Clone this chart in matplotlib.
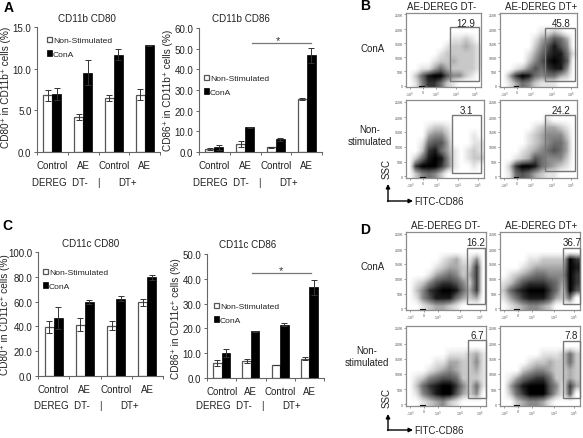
import matplotlib
matplotlib.use("Agg")
import matplotlib.pyplot as plt
import numpy as np
from matplotlib.patches import Rectangle

plt.rcParams['font.family'] = ['Liberation Sans', 'DejaVu Sans']

W, H = 583, 439

groups = ["Control", "AE", "Control", "AE"]
series_names = ["Non-Stimulated", "ConA"]

# bar values
a1_ns = [6.8, 4.2, 6.5, 6.9]
a1_con = [7.0, 9.5, 11.7, 12.8]
a1_ns_err = [0.7, 0.4, 0.4, 0.7]
a1_con_err = [0.7, 1.5, 0.7, 0.1]

a2_ns = [1.5, 3.8, 2.3, 25.5]
a2_con = [2.2, 12.0, 6.2, 46.8]
a2_ns_err = [0.3, 1.3, 0.3, 0.4]
a2_con_err = [1.0, 0.3, 0.8, 3.5]

c1_ns = [39.5, 41.5, 40.5, 59.5]
c1_con = [47.0, 59.5, 62.5, 79.5]
c1_ns_err = [5.0, 5.5, 3.5, 3.0]
c1_con_err = [9.0, 1.5, 2.0, 2.0]

c2_ns = [6.0, 7.0, 5.2, 7.8]
c2_con = [10.0, 18.8, 21.5, 36.5]
c2_ns_err = [1.3, 0.8, 0.1, 0.7]
c2_con_err = [1.7, 0.2, 0.6, 3.0]

# flow plots: darkness of the dot cloud by eye, 0 empty to 9 black, top row first
b_con_minus = ["000000000000", "000000000000", "000000000000", "000000011210", "000000122321",
               "000001222221", "000012232221", "001135322221", "025899644210", "014775210000"]
b_con_plus = ["000000000000", "000000000000", "000000112100", "000001346530", "000002468640",
              "000013578851", "000024689860", "001246578840", "037985455320", "013542111000"]
b_non_minus = ["000000000000", "000000000000", "000000000000", "000122100000", "000344200010",
               "001566300011", "002785310121", "025898410122", "079997410010", "024542000000"]
b_non_plus = ["000000000000", "000000000000", "000000010000", "000001233210", "000012344420",
              "000012345530", "000123456530", "001236544420", "027998543210", "015653211000"]
d_con_minus = ["000000000000", "000000000000", "000000000000", "000001231140", "000012332270",
               "000134542370", "012467764270", "024789985370", "014688853230", "001233210000"]
d_con_plus = ["000000000000", "000000000000", "000000000000", "000011222297", "000123333398",
              "012345544497", "124677765397", "257899975296", "135788863250", "012344320000"]
d_non_minus = ["000000000000", "000000000000", "000000000000", "000000111231", "000011332241",
               "000123432231", "012456652221", "025789974251", "014689963240", "001234210000"]
d_non_plus = ["000000000000", "000000000000", "000000000000", "000000111252", "000012232252",
              "000234432232", "013567752232", "036899964173", "025799963160", "002344310000"]
gate_labels = ["12.9", "45.8", "3.1", "24.2", "16.2", "36.7", "6.7", "7.8"]
ssc_ticks = ["0", "50K", "100K", "150K", "200K", "250K"]
fitc_ticks = ["-10$^3$", "0", "10$^3$", "10$^4$", "10$^5$"]

fig = plt.figure(figsize=(W / 100, H / 100), dpi=100)


def axes_px(x0, y0, x1, y1):
    return fig.add_axes([x0 / W, 1 - y1 / H, (x1 - x0) / W, (y1 - y0) / H])


def bar_panel(box, ns, con, ns_err, con_err, ymax, step, title, title_x, title_y, leg_xy):
    ax = axes_px(*box)
    x = np.arange(len(groups))
    w = 0.29
    ek = dict(ecolor='#333333', elinewidth=0.7, capsize=2, capthick=0.7)
    b1 = ax.bar(x - w / 2, ns, w, yerr=ns_err, color='white', edgecolor='#555555', linewidth=0.9, error_kw=ek)
    b2 = ax.bar(x + w / 2, con, w, yerr=con_err, color='black', edgecolor='black', linewidth=0.5, error_kw=ek)
    ax.set_xlim(-0.5, 3.5)
    ax.set_ylim(0, ymax)
    ax.set_yticks(np.arange(0, ymax + step / 2, step))
    ax.set_yticklabels(["%.1f" % v for v in np.arange(0, ymax + step / 2, step)], fontsize=7, color='#222222')
    ax.set_xticks(np.arange(-0.5, 4))
    ax.set_xticklabels([])
    ax.set_xticks(x, minor=True)
    ax.set_xticklabels(groups, minor=True, fontsize=7, color='#222222')
    ax.tick_params(axis='x', which='minor', length=0, pad=6)
    ax.tick_params(axis='both', which='major', length=2.5, width=0.7, color='#666666', pad=1.5)
    for s in ['top', 'right']:
        ax.spines[s].set_visible(False)
    for s in ['left', 'bottom']:
        ax.spines[s].set_color('#666666')
        ax.spines[s].set_linewidth(0.8)
    ax.legend([b1, b2], series_names, loc='upper left', frameon=False, fontsize=6.1,
              bbox_to_anchor=(leg_xy[0] / W, 1 - leg_xy[1] / H), bbox_transform=fig.transFigure,
              handlelength=0.55, handleheight=0.55, handletextpad=0.15, labelspacing=0.75,
              borderpad=0, borderaxespad=0, labelcolor='#222222')
    over.text(title_x, title_y, title, fontsize=7.1, ha='center', va='center', color='#222222')
    return ax


def flow_panel(box, grid, gate, label, label_xy):
    ax = axes_px(*box)
    cells = np.array([[int(c) for c in row] for row in grid], dtype=float)
    # light cells need lifting, the real clouds are dots and read darker than their average
    ax.imshow((cells / 9) ** 0.75, cmap='Greys', vmin=0, vmax=1, aspect='auto', extent=(0, 1, 0, 1),
              interpolation='bilinear')
    ax.plot([0.19, 0.24], [0, 0], color='black', lw=1.5, clip_on=False)
    ax.set_xticks([0.05, 0.22, 0.40, 0.67, 0.92])
    ax.set_xticklabels(fitc_ticks, fontsize=2.6, color='#555555')
    ax.set_yticks([0.02, 0.21, 0.4, 0.59, 0.78, 0.98])
    ax.set_yticklabels(ssc_ticks, fontsize=2.6, color='#555555')
    ax.set_xlim(0, 1)
    ax.set_ylim(0, 1)
    ax.tick_params(length=1.2, width=0.4, pad=1, color='#555555')
    for s in ax.spines.values():
        s.set_color('#8c8c8c')
        s.set_linewidth(0.9)
    over.add_patch(Rectangle((gate[0], gate[1]), gate[2] - gate[0], gate[3] - gate[1],
                             fill=False, edgecolor='#777777', linewidth=1.0))
    over.text(label_xy[0], label_xy[1], label, fontsize=7, ha='center', va='center', color='#222222')


# full figure overlay in pixel coordinates, for gates, labels and arrows
over = fig.add_axes([0, 0, 1, 1], zorder=10)
over.set_xlim(0, W)
over.set_ylim(H, 0)
over.axis('off')

ax_a1 = bar_panel((37, 28, 160, 153), a1_ns, a1_con, a1_ns_err, a1_con_err, 15, 5, "CD11b CD80", 87, 19, (47, 37.5))
ax_a2 = bar_panel((199, 29, 322, 153), a2_ns, a2_con, a2_ns_err, a2_con_err, 60, 10, "CD11b CD86", 241, 19, (204, 75.5))
ax_c1 = bar_panel((38, 253, 163, 377), c1_ns, c1_con, c1_ns_err, c1_con_err, 100, 20, "CD11c CD80", 91, 244, (43, 269.5))
ax_c2 = bar_panel((207, 255, 324, 379), c2_ns, c2_con, c2_ns_err, c2_con_err, 50, 10, "CD11c CD86", 248, 245, (214, 303.5))

# significance bars
ax_a2.plot([1.22, 3.14], [52.6, 52.6], color='#777777', lw=0.9, clip_on=False)
ax_c2.plot([1.04, 3.06], [42.3, 42.3], color='#777777', lw=0.9, clip_on=False)
over.text(278, 41, "*", fontsize=8, ha='center', va='center', color='#333333')
over.text(281, 271, "*", fontsize=8, ha='center', va='center', color='#333333')

# y axis labels
for x, y, t in [(6, 87, "CD80⁺ in CD11b⁺ cells (%)"), (168, 90, "CD86⁺ in CD11b⁺ cells (%)"),
                (5, 315, "CD80⁺ in CD11c⁺ cells (%)"), (176, 319, "CD86⁺ in CD11c⁺ cells (%)")]:
    over.text(x, y, t, fontsize=7.2, rotation=90, ha='center', va='center', color='#222222')

# group captions under the bars
for x0, y in [(32, 183), (193, 183), (34, 406), (196, 406)]:
    over.text(x0, y, "DEREG  DT-", fontsize=7, ha='left', va='center', color='#222222')
    over.text(x0 + 66, y, "|", fontsize=7, ha='center', va='center', color='#222222')
    over.text(x0 + 86, y, "DT+", fontsize=7, ha='left', va='center', color='#222222')

# panel letters
for x, y, t in [(9, 8, "A"), (365, 6, "B"), (7, 226, "C"), (365, 230, "D")]:
    over.text(x, y, t, fontsize=10, fontweight='bold', ha='center', va='center', color='black')

flow_panel((406, 14, 481, 88), b_con_minus, (450, 28, 479, 82), gate_labels[0], (466, 24))
flow_panel((500, 14, 577, 88), b_con_plus, (545, 29, 575, 82), gate_labels[1], (561, 24))
flow_panel((406, 101, 484, 179), b_non_minus, (452, 116, 481, 174), gate_labels[2], (466, 111))
flow_panel((500, 101, 577, 179), b_non_plus, (545, 116, 575, 172), gate_labels[3], (561, 111))
flow_panel((406, 233, 486, 311), d_con_minus, (467, 249, 485, 305), gate_labels[4], (476, 243))
flow_panel((500, 233, 580, 311), d_con_plus, (563, 249, 580, 305), gate_labels[5], (572, 243))
flow_panel((406, 327, 486, 407), d_non_minus, (468, 341, 486, 399), gate_labels[6], (477, 336))
flow_panel((500, 327, 580, 407), d_non_plus, (563, 342, 580, 399), gate_labels[7], (571, 336))

# flow headers and row names
for x, y, t in [(442, 7, "AE-DEREG DT-"), (541, 7, "AE-DEREG DT+"), (446, 226, "AE-DEREG DT-"), (541, 226, "AE-DEREG DT+"),
                (373, 49, "ConA"), (373, 267, "ConA"), (370, 136, "Non-\nstimulated"), (367, 357, "Non-\nstimulated")]:
    over.text(x, y, t, fontsize=7, ha='center', va='center', color='#222222', linespacing=1.15)

for top, elbow in [(185, 202), (415, 431)]:
    over.annotate("", xy=(388, top), xytext=(388, elbow + 0.5), arrowprops=dict(arrowstyle='-|>', color='black', lw=1, shrinkA=0, shrinkB=0, mutation_scale=6))
    over.annotate("", xy=(413, elbow), xytext=(387.5, elbow), arrowprops=dict(arrowstyle='-|>', color='black', lw=1, shrinkA=0, shrinkB=0, mutation_scale=6))
    over.text(414, elbow, "FITC-CD86", fontsize=7, ha='left', va='center', color='#222222')
    over.text(387, elbow - 33, "SSC", fontsize=7, rotation=90, ha='center', va='center', color='#222222')

fig.savefig("out.png", dpi=100)
